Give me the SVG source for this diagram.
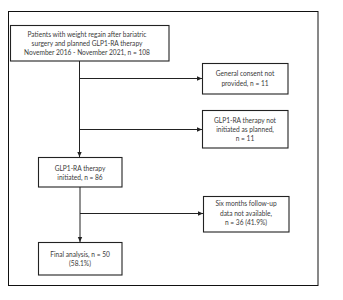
<svg xmlns="http://www.w3.org/2000/svg" width="343" height="300" viewBox="0 0 343 300">
<defs>
<style>
.box{fill:#fff;stroke:#222;stroke-width:1.1}
.ln{stroke:#222;stroke-width:1;fill:none}
.t{font-family:Lato,"Liberation Sans",sans-serif;font-size:6.6px;fill:#3a3a3a;text-anchor:middle}
</style>
<marker id="ah" markerWidth="6" markerHeight="6" refX="5" refY="3" orient="auto" markerUnits="userSpaceOnUse">
<path d="M0,0.8 L5,3 L0,5.2 Z" fill="#222"/>
</marker>
</defs>
<rect x="0" y="0" width="343" height="300" fill="#fff"/>
<rect x="8.5" y="11.5" width="309.5" height="274" fill="none" stroke="#111" stroke-width="1"/>
<g id="connectors">
<line class="ln" x1="79.5" y1="61" x2="79.5" y2="157" marker-end="url(#ah)"/>
<line class="ln" x1="79.5" y1="78.5" x2="202" y2="78.5" marker-end="url(#ah)"/>
<line class="ln" x1="79.5" y1="129.5" x2="202" y2="129.5" marker-end="url(#ah)"/>
<line class="ln" x1="80" y1="187" x2="80" y2="242" marker-end="url(#ah)"/>
<line class="ln" x1="80" y1="213.5" x2="203" y2="213.5" marker-end="url(#ah)"/>
</g>
<g id="n1">
<rect class="box" x="10.5" y="25.5" width="158.5" height="35.5"/>
<text class="t" x="87" y="37.3">Patients with weight regain after bariatric</text>
<text class="t" x="87" y="46.3">surgery and planned GLP1-RA therapy</text>
<text class="t" x="87" y="55.3">November 2016 - November 2021, n = 108</text>
</g>
<g id="n2">
<rect class="box" x="202.5" y="63.5" width="85.5" height="30.5"/>
<text class="t" x="245" y="76.3">General consent not</text>
<text class="t" x="245" y="86.3">provided, n = 11</text>
</g>
<g id="n3">
<rect class="box" x="202.5" y="110.5" width="85.5" height="37.5"/>
<text class="t" x="245" y="123">GLP1-RA therapy not</text>
<text class="t" x="245" y="132">initiated as planned,</text>
<text class="t" x="245" y="141">n = 11</text>
</g>
<g id="n4">
<rect class="box" x="38.5" y="157.5" width="83.5" height="29.5"/>
<text class="t" x="80" y="170.5">GLP1-RA therapy</text>
<text class="t" x="80" y="180.3">initiated, n = 86</text>
</g>
<g id="n5">
<rect class="box" x="203.5" y="196.5" width="85.5" height="35.5"/>
<text class="t" x="246" y="206.3">Six months follow-up</text>
<text class="t" x="246" y="215.8">data not available,</text>
<text class="t" x="246" y="224.8">n = 36 (41.9%)</text>
</g>
<g id="n6">
<rect class="box" x="38.5" y="242.5" width="83.5" height="32.5"/>
<text class="t" x="80" y="257.3">Final analysis, n = 50</text>
<text class="t" x="80" y="266.3">(58.1%)</text>
</g>
</svg>
